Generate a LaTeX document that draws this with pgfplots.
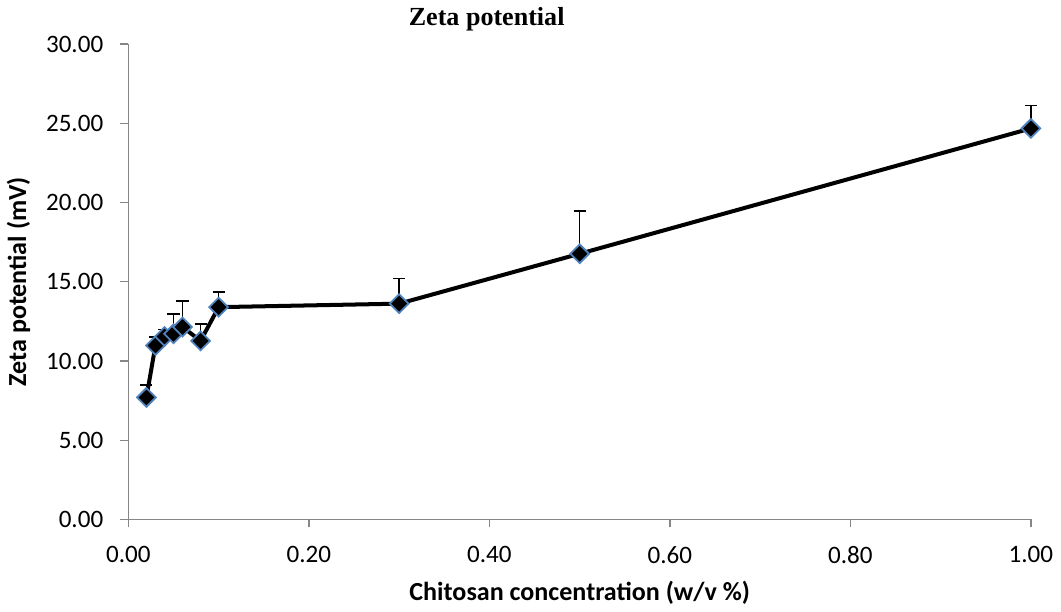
\documentclass[border=0pt]{standalone}
\usepackage{pgfplots}
\pgfplotsset{compat=1.18}
\usepackage{fontspec}
\setmainfont{Carlito}
\newfontfamily\titlefont{Liberation Serif}
\definecolor{axisgray}{HTML}{868686}
\definecolor{markblue}{HTML}{4F81BD}
\begin{document}
\begin{tikzpicture}
\path[use as bounding box] (-64pt,-46pt) rectangle (465pt,259pt);
\begin{axis}[
    name=ax, at={(0,0)}, anchor=south west,
    scale only axis,
    width=450pt, height=237pt,
    xmin=0, xmax=1, ymin=0, ymax=30,
    xtick={0,0.2,...,1}, ytick={0,5,...,30},
    axis x line*=bottom, axis y line*=left,
    axis line style={axisgray, line width=0.7pt},
    tick style={axisgray, line width=0.7pt},
    tick align=outside, major tick length=4pt,
    xticklabel style={yshift=-6pt, /pgf/number format/.cd, fixed, fixed zerofill, precision=2, assume math mode=true},
    yticklabel style={xshift=-5pt, /pgf/number format/.cd, fixed, fixed zerofill, precision=2, assume math mode=true},
    ticklabel style={font=\fontsize{12.5}{14}\selectfont},
    xlabel={\textbf{Chitosan concentration (w/v \%)}},
    ylabel={\textbf{Zeta potential (mV)}},
    label style={font=\fontsize{13}{15}\selectfont},
    xlabel style={yshift=-1.5pt},
    ylabel style={yshift=1pt},
    title={\titlefont\bfseries Zeta potential},
    title style={font=\fontsize{13}{15}\selectfont, at={(0.397,1)}, yshift=-3pt},
    clip=false,
]
\addplot[black, line width=2pt,
    mark=square*, mark size=3.3pt,
    mark options={rotate=45, fill=black, draw=markblue, line width=0.9pt},
    error bars/.cd, y dir=plus, y explicit,
    error bar style={black, line width=0.8pt},
    error mark options={rotate=90, mark size=3pt, line width=0.8pt, black}]
coordinates {
(0.02, 7.70) +- (0, 0.80)
(0.03, 10.98) +- (0, 0.55)
(0.04, 11.55) +- (0, 0.45)
(0.05, 11.72) +- (0, 1.25)
(0.06, 12.15) +- (0, 1.65)
(0.08, 11.27) +- (0, 1.05)
(0.10, 13.40) +- (0, 0.95)
(0.30, 13.62) +- (0, 1.60)
(0.50, 16.77) +- (0, 2.70)
(1.00, 24.68) +- (0, 1.45)
};
\end{axis}
\end{tikzpicture}
\end{document}
